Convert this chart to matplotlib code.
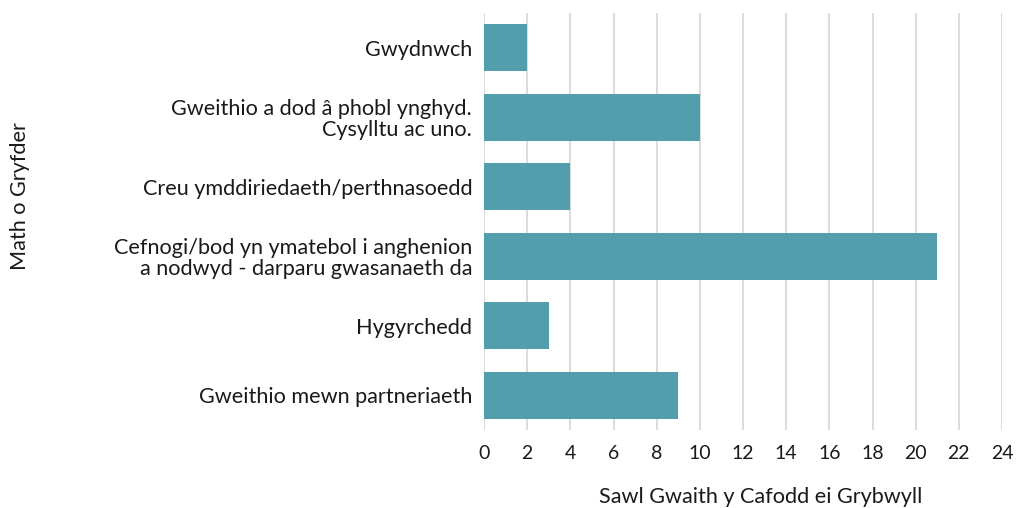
import matplotlib.pyplot as plt

categories = [
    "Gwydnwch",
    "Gweithio a dod â phobl ynghyd.\nCysylltu ac uno.",
    "Creu ymddiriedaeth/perthnasoedd",
    "Cefnogi/bod yn ymatebol i anghenion\na nodwyd - darparu gwasanaeth da",
    "Hygyrchedd",
    "Gweithio mewn partneriaeth",
]
counts = [2, 10, 4, 21, 3, 9]
x_ticks = list(range(0, 25, 2))

plt.rcParams['font.family'] = ['Lato', 'DejaVu Sans']

fig = plt.figure(figsize=(10.18, 5.08), dpi=100)
ax = fig.add_axes([484 / 1018, 1 - 430 / 508, (1002 - 484) / 1018, (430 - 13) / 508])

y = list(range(len(categories)))
ax.barh(y, counts, height=0.68, color="#539ead", zorder=3)
ax.set_ylim(len(categories) - 0.5, -0.5)
ax.set_xlim(0, 24)
ax.set_xticks(x_ticks)
ax.set_yticks(y)
ax.set_yticklabels(categories, fontsize=15.6, color="#1a1a1a", ha="right",
                   multialignment="right", linespacing=1.05)
ax.tick_params(axis="x", labelsize=14, labelcolor="#1a1a1a", length=0, pad=11)
ax.tick_params(axis="y", length=0, pad=8.5)
ax.grid(axis="x", color="#dcdcdc", linewidth=1.5, zorder=0)
for s in ax.spines.values():
    s.set_visible(False)

ax.set_xlabel("Sawl Gwaith y Cafodd ei Grybwyll", fontsize=15.6, color="#1a1a1a")
ax.xaxis.set_label_coords((761 - 484) / (1002 - 484), -0.137)
ax.xaxis.label.set_va("top")
fig.text(20 / 1018, 1 - 196 / 508, "Math o Gryfder", rotation=90, fontsize=15.6,
         color="#1a1a1a", ha="center", va="center")

fig.savefig("out.png", dpi=100)
